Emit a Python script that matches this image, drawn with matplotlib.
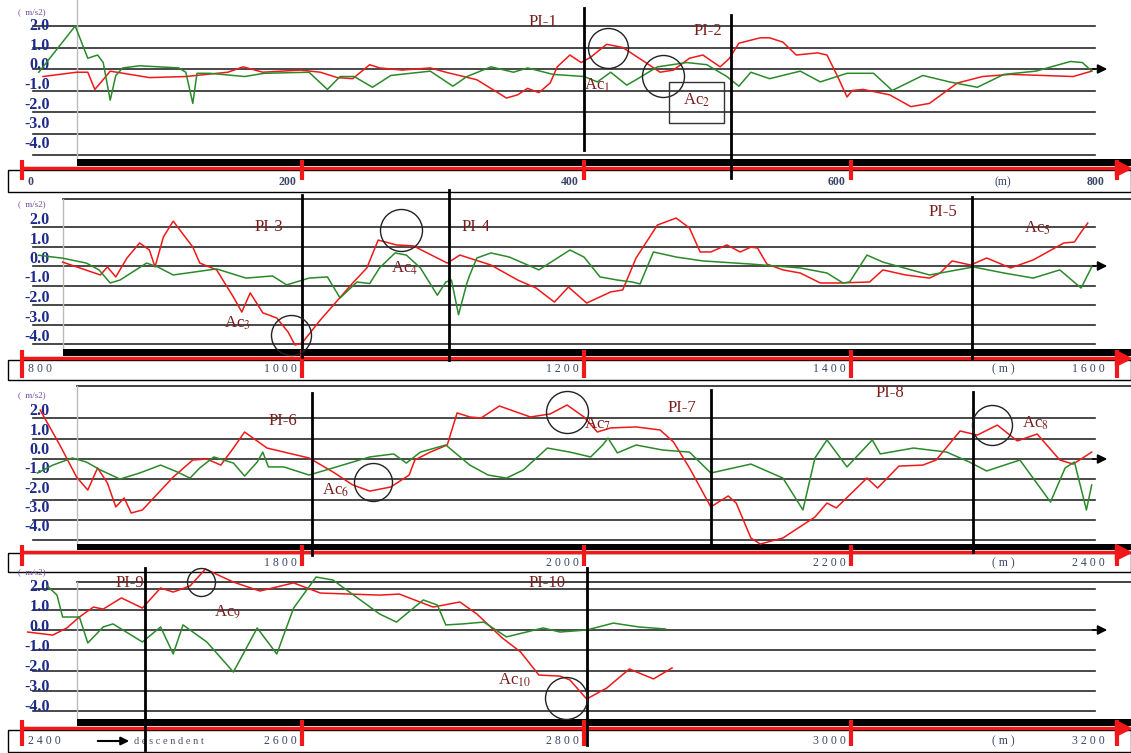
import numpy as np
import matplotlib
matplotlib.use('Agg')
import matplotlib.pyplot as plt
from matplotlib.patches import Rectangle

plt.rcParams['font.family'] = ['Liberation Serif', 'DejaVu Serif']
plt.rcParams['mathtext.fontset'] = 'stix'

# ---- longitudinal (green) and lateral (red) acceleration, m/s2 vs distance m ----
# 0 - 800 m
dist_g1 = [12, 38, 47, 54, 58, 63, 67, 72, 84, 112, 117, 122, 125, 134, 159, 173, 205, 218, 227, 237,
           250, 263, 291, 307, 317, 334, 350, 360, 378, 400, 410, 420, 432, 439, 455, 477, 492, 507, 516, 525,
           539, 562, 577, 597, 617, 631, 654, 674, 695, 715, 739, 765, 774, 781]
acc_g1 = [-0.15, 2.0, 0.5, 0.65, 0.3, -1.45, -0.3, 0.05, 0.15, 0.05, -0.15, -1.6, -0.2, -0.2, -0.35, -0.2, -0.15, -0.95, -0.35, -0.35,
          -0.85, -0.3, -0.1, -0.8, -0.35, 0.1, -0.15, 0.05, -0.25, -0.35, -0.6, -0.15, -0.75, -0.5, 0.1, 0.3, 0.2, -0.35, -0.8, -0.15,
          -0.45, -0.1, -0.6, -0.2, -0.2, -1.0, -0.3, -0.6, -0.85, -0.25, -0.1, 0.35, 0.3, -0.1]
dist_r1 = [15, 39, 47, 52, 56, 63, 91, 117, 147, 158, 172, 199, 213, 225, 236, 248, 255, 271, 291, 302,
           324, 345, 353, 360, 368, 376, 381, 390, 398, 405, 417, 429, 445, 457, 467, 479, 489, 502, 509, 516,
           532, 539, 549, 559, 575, 582, 590, 597, 601, 609, 629, 645, 659, 680, 699, 720, 744, 767, 781]
acc_r1 = [-0.35, -0.15, -0.15, -0.95, -0.65, -0.1, -0.4, -0.35, -0.15, 0.1, -0.15, -0.05, -0.15, -0.4, -0.45, 0.2, 0.05, -0.05, 0.05, -0.15,
          -0.5, -1.35, -1.2, -0.9, -1.1, -0.65, 0.1, 0.65, 0.3, 0.55, 1.15, 1.0, 0.35, -0.15, -0.05, 0.5, 0.65, 0.1, 0.5, 1.2,
          1.45, 1.45, 1.25, 0.65, 0.75, 0.65, -0.35, -1.3, -1.0, -0.95, -1.2, -1.75, -1.6, -0.65, -0.35, -0.25, -0.3, -0.35, -0.1]

# 800 - 1600 m
dist_g2 = [812, 829, 846, 855, 863, 870, 889, 897, 908, 939, 960, 979, 989, 1005, 1018, 1027, 1039, 1048, 1055, 1066,
           1074, 1084, 1096, 1102, 1106, 1111, 1117, 1119, 1124, 1134, 1147, 1168, 1190, 1200, 1212, 1225, 1236, 1242, 1252, 1269,
           1289, 1325, 1362, 1382, 1394, 1399, 1412, 1424, 1459, 1492, 1515, 1537, 1557, 1573, 1581]
acc_g2 = [0.55, 0.4, 0.15, -0.2, -0.87, -0.72, 0.15, -0.05, -0.46, -0.15, -0.62, -0.51, -0.97, -0.62, -0.56, -1.64, -0.82, -0.9, -0.1, 0.67,
          0.56, -0.1, -1.5, -0.82, -0.72, -2.5, -0.87, -0.46, 0.41, 0.67, 0.46, -0.2, 0.82, 0.46, -0.56, -0.72, -0.82, -0.92, 0.72, 0.46,
          0.26, 0.1, -0.1, -0.36, -0.87, -0.82, 0.56, 0.2, -0.46, -0.05, -0.36, -0.62, -0.2, -1.13, -0.05]
dist_r2 = [829, 856, 861, 867, 875, 884, 891, 895, 901, 908, 922, 927, 939, 951, 957, 963, 972, 982, 990, 995,
           1000, 1013, 1036, 1046, 1054, 1067, 1079, 1103, 1112, 1134, 1153, 1166, 1179, 1189, 1202, 1220, 1229, 1239, 1255, 1269,
           1279, 1287, 1295, 1307, 1317, 1325, 1330, 1337, 1349, 1362, 1377, 1391, 1414, 1424, 1441, 1459, 1467, 1476, 1490, 1502,
           1520, 1537, 1560, 1568, 1573, 1578]
acc_r2 = [0.2, -0.46, -0.05, -0.56, 0.41, 1.18, 0.82, -0.05, 1.49, 2.3, 0.97, 0.15, -0.2, -1.59, -2.36, -1.38, -2.4, -2.67, -3.38, -4.05,
          -3.95, -2.77, -0.87, -0.1, 1.33, 1.08, 1.03, 0.15, 0.56, 0.05, -0.72, -1.13, -1.85, -1.08, -1.9, -1.33, -1.23, 0.41, 2.1, 2.46,
          1.95, 0.72, 0.72, 1.08, 0.72, 0.97, 0.92, 0.1, -0.2, -0.36, -0.87, -0.87, -0.82, -0.2, -0.46, -0.62, -0.36, 0.26, 0.05, 0.41,
          -0.1, 0.31, 1.18, 1.23, 1.74, 2.2]

# 1600 - 2400 m
dist_g3 = [1611, 1622, 1636, 1646, 1656, 1670, 1684, 1699, 1711, 1720, 1727, 1737, 1751, 1759, 1768, 1772, 1776, 1787, 1805, 1822,
           1848, 1865, 1874, 1884, 1902, 1919, 1932, 1945, 1957, 1974, 1990, 2005, 2014, 2018, 2025, 2039, 2059, 2079, 2095, 2125,
           2149, 2164, 2173, 2182, 2197, 2216, 2222, 2247, 2272, 2289, 2302, 2327, 2350, 2361, 2368, 2377, 2381]
acc_g3 = [-0.69, -0.3, 0.05, -0.15, -0.54, -0.99, -0.69, -0.3, -0.64, -0.94, -0.44, 0.1, -0.2, -0.84, -0.15, 0.34, -0.39, -0.39, -0.79, -0.44,
          0.1, 0.25, -0.2, 0.34, 0.69, -0.3, -0.79, -0.94, -0.54, 0.54, 0.34, 0.1, 0.69, 1.03, 0.3, 0.69, 0.44, 0.34, -0.69, -0.25,
          -0.94, -2.51, 0.05, 0.94, -0.39, 0.94, 0.25, 0.54, 0.34, -0.15, -0.59, -0.05, -2.12, -0.44, -0.15, -2.51, -1.28]
dist_r3 = [1613, 1627, 1639, 1647, 1654, 1661, 1667, 1673, 1678, 1686, 1708, 1722, 1732, 1742, 1751, 1759, 1775, 1805, 1822, 1836,
           1848, 1863, 1876, 1880, 1891, 1903, 1910, 1919, 1927, 1940, 1962, 1976, 1988, 2000, 2010, 2020, 2039, 2057, 2067, 2079,
           2095, 2108, 2114, 2125, 2132, 2149, 2173, 2182, 2189, 2212, 2220, 2236, 2254, 2264, 2282, 2295, 2310, 2325, 2340, 2357,
           2367, 2381]
acc_r3 = [2.41, 0.69, -0.89, -1.53, -0.44, -1.18, -2.36, -1.92, -2.66, -2.51, -0.89, -0.05, 0.0, -0.3, 0.54, 1.33, 0.54, 0.05, -0.64, -1.28,
          -1.58, -1.38, -0.79, -0.05, 0.34, 0.69, 2.27, 2.07, 2.02, 2.61, 2.07, 2.22, 2.66, 2.07, 1.33, 1.53, 1.58, 1.43, 0.84, -0.44,
          -2.36, -1.82, -2.17, -3.89, -4.19, -3.89, -2.86, -2.17, -2.41, -0.94, -1.43, -0.35, -0.3, -0.05, 1.38, 1.18, 1.67, 0.89, 1.23, -0.05,
          -0.25, 0.34]

# 2400 - 3200 m
dist_g4 = [2418, 2425, 2429, 2441, 2447, 2458, 2465, 2486, 2499, 2508, 2515, 2532, 2551, 2568, 2582, 2594, 2610, 2622, 2655, 2667,
           2686, 2696, 2702, 2714, 2729, 2745, 2771, 2783, 2802, 2822, 2841, 2861]
acc_g4 = [2.17, 1.72, 0.64, 0.64, -0.64, 0.15, 0.3, -0.59, 0.15, -1.18, 0.25, -0.59, -2.07, 0.1, -1.18, 1.08, 2.61, 2.46, 0.79, 0.39,
          1.48, 1.23, 0.25, 0.3, 0.39, -0.34, 0.1, -0.1, 0.0, 0.34, 0.15, 0.05]
dist_r4 = [2404, 2422, 2432, 2441, 2451, 2458, 2471, 2486, 2499, 2508, 2520, 2531, 2551, 2570, 2594, 2613, 2655, 2669, 2693, 2712,
           2724, 2742, 2755, 2768, 2783, 2790, 2802, 2817, 2834, 2852, 2866]
acc_r4 = [-0.1, -0.25, 0.1, 0.64, 1.13, 1.03, 1.58, 1.08, 2.07, 1.87, 2.17, 3.0, 2.36, 1.92, 2.32, 1.82, 1.72, 1.77, 1.13, 1.38,
          0.79, -0.39, -1.08, -2.22, -2.27, -2.46, -3.4, -2.86, -1.92, -2.41, -1.87]

LEVELS = [2, 1, 0, -1, -2, -3, -4]

# points of inflection (vertical markers)
pi_names = ['PI-1', 'PI-2', 'PI-3', 'PI-4', 'PI-5', 'PI-6', 'PI-7', 'PI-8', 'PI-9', 'PI-10']
pi_dist = [400, 510, 1000, 1104, 1491, 1807, 2095, 2292, 2488, 2802]
pi_top = [2.84, 2.51, 3.64, 3.9, 3.54, 3.25, 3.4, 3.3, 3.05, 3.05]
pi_bot = [-3.77, -5.07, -4.67, -4.82, -4.72, -4.73, -4.24, -4.58, -5.9, -5.67]
pi_lab_x = [371, 493, 976, 1123, 1469, 1786, 2073, 2229, 2477, 2774]
pi_lab_y = [2.2, 1.75, 2.0, 2.0, 2.77, 1.85, 2.5, 3.25, 2.32, 2.32]

# acceleration spots
ac_names = ['Ac$_{1}$', 'Ac$_{2}$', 'Ac$_{3}$', 'Ac$_{4}$', 'Ac$_{5}$', 'Ac$_{6}$', 'Ac$_{7}$', 'Ac$_{8}$', 'Ac$_{9}$', 'Ac$_{10}$']
ac_lab_x = [410, 484, 954, 1073, 1540, 1824, 2010, 2339, 2547, 2751]
ac_lab_y = [-0.74, -1.44, -2.92, -0.1, 1.95, -1.53, 1.72, 1.77, 0.84, -2.46]
circ_x = [418, 459, 992, 1070, 1850, 1988, 2306, 2528, 2787]
circ_y = [0.98, -0.33, -3.54, 1.85, -1.13, 2.32, 1.67, 2.36, -3.35]
circ_px = [40, 42, 40, 42, 38, 42, 40, 28, 42]

W, H = 1131, 753
RED = '#f01818'
GREEN = '#2a8a2a'
DARKRED = '#7b1c1c'
NAVY = '#1c2a8a'

# distance axis of the scan is not perfectly linear: anchor metres -> pixels
ANCH_M = [-100, 0, 200, 400, 600, 800, 900]
ANCH_PX = [-118, 22, 302, 584, 851, 1117, 1250]

panels = [
    dict(off=0, top=0, bot=192, y0=69, unit=21.5, frame=None, left=77, bar=(159, 166), red=168,
         tick=(160, 180), box=(170, 192), lab=182, units=(18, 12), dy=(0, 1.8), spaced=False,
         g=(dist_g1, acc_g1), r=(dist_r1, acc_r1)),
    dict(off=800, top=192, bot=378, y0=266, unit=19.5, frame=199, left=63, bar=(349, 356), red=358,
         tick=(350, 378), box=(360, 380), lab=369, units=(18, 204), dy=(7, 0), spaced=True,
         g=(dist_g2, acc_g2), r=(dist_r2, acc_r2)),
    dict(off=1600, top=378, bot=568, y0=459, unit=20.3, frame=386, left=77, bar=(544, 550), red=552,
         tick=(545, 566), box=(553, 572), lab=563, units=(18, 395), dy=(7, 1), spaced=True,
         g=(dist_g3, acc_g3), r=(dist_r3, acc_r3)),
    dict(off=2400, top=568, bot=753, y0=630, unit=20.3, frame=582, left=77, bar=(719, 726), red=728,
         tick=(720, 746), box=(730, 752), lab=741, units=(18, 572), dy=(2, 0.4), spaced=True,
         g=(dist_g4, acc_g4), r=(dist_r4, acc_r4)),
]

fig = plt.figure(figsize=(W / 100, H / 100), dpi=100)


def make_scale(off):
    def fwd(x):
        return np.interp(np.asarray(x, dtype=float) - off, ANCH_M, ANCH_PX)

    def inv(p):
        return np.interp(np.asarray(p, dtype=float), ANCH_PX, ANCH_M) + off
    return fwd, inv


for k, p in enumerate(panels):
    ax = fig.add_axes([0, 1 - p['bot'] / H, 1, (p['bot'] - p['top']) / H])
    ax.set_facecolor('none')
    fwd, inv = make_scale(p['off'])
    ax.set_xscale('function', functions=(fwd, inv))
    ax.set_xlim(float(inv(0)), float(inv(W)))
    vy = lambda py, p=p: (p['y0'] - py) / p['unit']
    ax.set_ylim(vy(p['bot']), vy(p['top']))
    for s in ax.spines.values():
        s.set_visible(False)
    ax.set_xticks([])
    ax.set_yticks([])
    yt = ax.get_yaxis_transform()

    # horizontal level lines and zero axis arrow
    for v in LEVELS:
        ax.axhline(v, xmin=33 / W, xmax=1095 / W, color='#2a2a2a', lw=1.2, zorder=1)
    ax.annotate('', xy=(1110 / W, 0), xytext=(1090 / W, 0), xycoords=yt, textcoords=yt,
                arrowprops=dict(arrowstyle='-|>', color='black', lw=1.2, mutation_scale=14))
    for v in LEVELS:
        shift = (p['dy'][0] + p['dy'][1] * (2 - v)) / p['unit']
        ax.text(50 / W, v + shift, f'{v:.1f}', transform=yt, ha='right', va='center',
                fontsize=11.5, fontweight='bold', color=NAVY)
    ax.text(p['units'][0] / W, vy(p['units'][1]), '(  m/s2)', transform=yt, ha='left', va='center',
            fontsize=6.5, color='#6a4a9a')

    # frame
    if p['frame'] is not None:
        ax.plot([p['left'] / W, 1], [vy(p['frame'])] * 2, transform=yt, color='#333333', lw=1.3, clip_on=False)
    ftop = p['frame'] if p['frame'] is not None else p['top']
    ax.plot([p['left'] / W] * 2, [vy(ftop), vy(p['bar'][0])], transform=yt, color='#bbbbbb', lw=1)

    # distance bar
    ax.add_patch(Rectangle((p['left'] / W, vy(p['bar'][1])), 1 - p['left'] / W,
                           vy(p['bar'][0]) - vy(p['bar'][1]), transform=yt, color='black', lw=0, zorder=3))
    ax.add_patch(Rectangle((8 / W, vy(p['box'][1])), 1 - 8 / W, vy(p['box'][0]) - vy(p['box'][1]),
                           transform=yt, fill=False, ec='black', lw=1, clip_on=False, zorder=2))
    ax.plot([22 / W, 1118 / W], [vy(p['red'])] * 2, transform=yt, color=RED, lw=2.5, zorder=4, clip_on=False)
    ax.plot([1123 / W], [vy(p['red'])], transform=yt, marker='>', ms=11, color=RED, zorder=4, clip_on=False)
    ticks = [p['off'] + t for t in (0, 200, 400, 600, 800)]
    ax.vlines(ticks, vy(p['tick'][1]), vy(p['tick'][0]), colors=RED, lw=3, zorder=5, clip_on=False)
    for i, t in enumerate(ticks):
        if k == 2 and i == 0:
            continue
        lab = ' '.join(str(t)) if p['spaced'] else str(t)
        if i == 0:
            dx, ha = 4, 'left'
        elif i == 4:
            dx, ha = -9, 'right'
        else:
            dx, ha = -4, 'right'
        ax.annotate(lab, xy=(t, vy(p['lab'])), xytext=(dx, 0), textcoords='offset points',
                    ha=ha, va='center', fontsize=8.5, color='#3a4566',
                    fontweight='bold' if not p['spaced'] else 'normal')
    ax.text(1003 / W, vy(p['lab']), '( m )' if p['spaced'] else '(m)', transform=yt, ha='center',
            va='center', fontsize=8.5, color='#3a4566')
    if k == 3:
        ax.annotate('', xy=(132 / W, vy(741)), xytext=(95 / W, vy(741)), xycoords=yt, textcoords=yt,
                    arrowprops=dict(arrowstyle='-|>', color='black', lw=1.5, mutation_scale=12))
        ax.text(134 / W, vy(741), 'd e s c e n d e n t', transform=yt, ha='left', va='center',
                fontsize=7.5, color='#5a4a6a')

    # curves
    ax.plot(p['r'][0], p['r'][1], color=RED, lw=1.1, zorder=6, solid_joinstyle='round')
    ax.plot(p['g'][0], p['g'][1], color=GREEN, lw=1.1, zorder=6, solid_joinstyle='round')

    lo, hi = p['off'], p['off'] + 800
    for i in range(len(pi_dist)):
        if lo <= pi_dist[i] < hi:
            ax.plot([pi_dist[i]] * 2, [pi_top[i], pi_bot[i]], color='black', lw=2, zorder=7, clip_on=False)
            ax.text(pi_lab_x[i], pi_lab_y[i], pi_names[i], ha='center', va='center', fontsize=12,
                    color=DARKRED, zorder=8)
    for i in range(len(ac_names)):
        if lo <= ac_lab_x[i] < hi:
            ax.text(ac_lab_x[i], ac_lab_y[i], ac_names[i], ha='center', va='center', fontsize=12,
                    color=DARKRED, zorder=8)
    for i in range(len(circ_x)):
        if lo <= circ_x[i] < hi:
            ax.plot(circ_x[i], circ_y[i], 'o', ms=circ_px[i] * 0.72, mfc='none', mec='#222222',
                    mew=1, zorder=8, clip_on=False)
    if k == 0:
        ax.add_patch(Rectangle((464, -2.51), 41, 1.91, fill=False, ec='#333333', lw=1, zorder=8))

fig.savefig('out.png', dpi=100)
